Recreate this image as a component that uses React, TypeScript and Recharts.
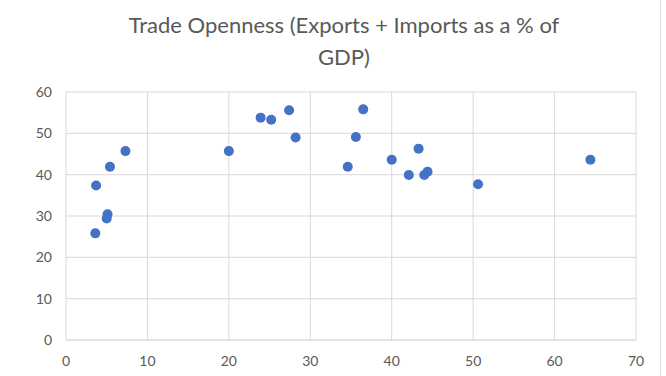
import React from "react";
import { ScatterChart, Scatter, XAxis, YAxis, CartesianGrid } from "recharts";

// Trade openness points: x and y values (%)
const xValues = [3.7, 3.6, 5.1, 5.0, 5.4, 7.3, 20.0, 23.9, 25.2, 27.4, 28.2, 36.5, 35.6, 34.6, 40.0, 43.3, 42.1, 44.0, 44.4, 50.6, 64.4];
const yValues = [37.4, 25.8, 30.4, 29.4, 41.9, 45.7, 45.7, 53.8, 53.3, 55.6, 49.0, 55.8, 49.1, 41.9, 43.6, 46.3, 39.9, 39.9, 40.7, 37.7, 43.6];

const xTicks = [0, 10, 20, 30, 40, 50, 60, 70];
const yTicks = [0, 10, 20, 30, 40, 50, 60];

const titleLines = ["Trade Openness (Exports + Imports as a % of", "GDP)"];

const points = xValues.map((x, i) => ({ x, y: yValues[i] }));

const FONT = "Lato, 'Open Sans', sans-serif";
const TEXT = "#595959";
const GRID = "#d9d9d9";

export default function App() {
  return (
    <div style={{ position: "absolute", left: 0, top: 0, width: 666, height: 376, background: "#fff" }}>
      <div style={{ position: "absolute", left: 660, top: 0, width: 1, height: 376, background: "#e0e0e0" }} />
      <ScatterChart width={666} height={376} margin={{ top: 92, right: 30, bottom: 6, left: 0 }}>
        <text x={344} y={33} textAnchor="middle" fontFamily={FONT} fontSize={22} fill={TEXT}>
          {titleLines[0]}
        </text>
        <text x={344} y={65} textAnchor="middle" fontFamily={FONT} fontSize={22} fill={TEXT}>
          {titleLines[1]}
        </text>
        <CartesianGrid stroke={GRID} strokeWidth={1} horizontalValues={yTicks} verticalValues={xTicks} />
        <XAxis
          type="number"
          dataKey="x"
          domain={[0, 70]}
          ticks={xTicks}
          height={30}
          axisLine={{ stroke: GRID }}
          tickLine={false}
          tickSize={6}
          tickMargin={10}
          tick={{ fill: TEXT, fontSize: 14, fontFamily: FONT }}
        />
        <YAxis
          type="number"
          dataKey="y"
          domain={[0, 60]}
          ticks={yTicks}
          width={66}
          axisLine={false}
          tickLine={false}
          tickSize={6}
          tickMargin={8}
          tick={{ fill: TEXT, fontSize: 14, fontFamily: FONT }}
        />
        <Scatter data={points} fill="#4472c4" isAnimationActive={false} shape={(p: any) => <circle cx={p.cx} cy={p.cy} r={5} fill="#4472c4" />} />
      </ScatterChart>
    </div>
  );
}
